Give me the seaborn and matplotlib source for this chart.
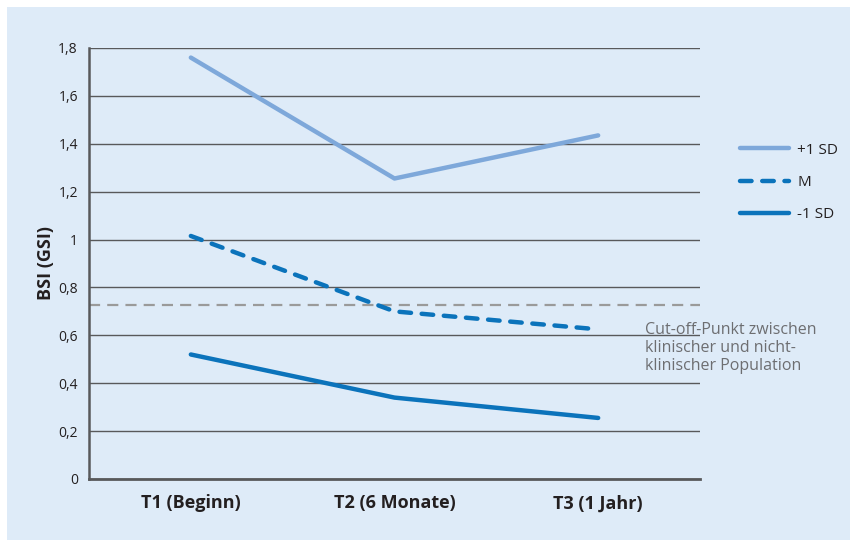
import matplotlib
matplotlib.use("Agg")
import matplotlib.pyplot as plt
from matplotlib.patches import Rectangle
from matplotlib.lines import Line2D
import seaborn as sns
import pandas as pd

# Measurement times and BSI (GSI) scores per group
times = ["T1 (Beginn)", "T2 (6 Monate)", "T3 (1 Jahr)"]
plus_sd = [1.76, 1.255, 1.435]
mean_vals = [1.015, 0.70, 0.625]
minus_sd = [0.52, 0.34, 0.255]
cutoff = 0.725
y_ticks = [0, 0.2, 0.4, 0.6, 0.8, 1.0, 1.2, 1.4, 1.6, 1.8]
y_tick_labels = ["0", "0,2", "0,4", "0,6", "0,8", "1", "1,2", "1,4", "1,6", "1,8"]
series_names = ["+1 SD", "M", "-1 SD"]

sns.set_theme(style="white")
plt.rcParams["font.family"] = ["Open Sans", "DejaVu Sans"]

panel = "#deebf8"
light_blue = "#7ea8da"
dark_blue = "#0b73bb"
grid_col = "#58595b"

df = pd.DataFrame({
    "Zeitpunkt": times * 3,
    "BSI": plus_sd + mean_vals + minus_sd,
    "Gruppe": [series_names[0]] * 3 + [series_names[1]] * 3 + [series_names[2]] * 3,
})

fig = plt.figure(figsize=(8.57, 5.44), dpi=100)
fig.patch.set_facecolor("white")
fig.patches.append(Rectangle((7 / 857, 4 / 544), 843 / 857, 533 / 544,
                             transform=fig.transFigure, facecolor=panel,
                             edgecolor="none", zorder=-1))

ax = fig.add_axes([89 / 857, 65 / 544, 611 / 857, 431 / 544])
ax.set_facecolor(panel)

palette = {series_names[0]: light_blue, series_names[1]: dark_blue, series_names[2]: dark_blue}
sns.lineplot(data=df, x="Zeitpunkt", y="BSI", hue="Gruppe", palette=palette,
             linewidth=3.2, sort=False, legend=False, ax=ax, zorder=3)

# dashed style for the mean line
for line, name in zip(ax.lines, series_names):
    line.set_solid_capstyle("round")
    if name == "M":
        line.set_dashes((2.6, 2.4))
        line.set_dash_capstyle("round")

ax.axhline(cutoff, color="#9a9a9a", linewidth=1.6, dashes=(5, 3.2), zorder=2)

ax.set_xlim(-0.5, 2.5)
ax.set_ylim(0, 1.8)
ax.set_yticks(y_ticks)
ax.set_yticklabels(y_tick_labels)
ax.yaxis.grid(True, color=grid_col, linewidth=1.0)
ax.set_axisbelow(True)
ax.tick_params(axis="both", length=0)
ax.tick_params(axis="y", labelsize=10, colors="#231f20", pad=8)
ax.tick_params(axis="x", labelsize=13, colors="#231f20", pad=11)
for lab in ax.get_xticklabels():
    lab.set_fontweight("bold")
ax.set_xlabel("")
ax.set_ylabel("BSI (GSI)", fontsize=13, fontweight="bold", color="#231f20", labelpad=2)

for side in ["top", "right"]:
    ax.spines[side].set_visible(False)
ax.spines["left"].set_color(grid_col)
ax.spines["left"].set_linewidth(1.8)
ax.spines["bottom"].set_color(grid_col)
ax.spines["bottom"].set_linewidth(2.0)

handles = [
    Line2D([], [], color=light_blue, linewidth=3.2, solid_capstyle="round"),
    Line2D([], [], color=dark_blue, linewidth=3.2, dashes=(2.6, 2.4), dash_capstyle="round"),
    Line2D([], [], color=dark_blue, linewidth=3.2, solid_capstyle="round"),
]
fig.legend(handles, series_names, loc="upper left", bbox_to_anchor=(726 / 857, 1 - 129 / 544),
           frameon=False, fontsize=11, handlelength=3.2, handletextpad=0.55,
           labelspacing=1.12, labelcolor="#231f20")

fig.text(645 / 857, 1 - 348 / 544,
         "Cut-off-Punkt zwischen\nklinischer und nicht-\nklinischer Population",
         fontsize=11.5, color="#6d6e71", va="center", ha="left", linespacing=1.2)

fig.savefig("out.png", dpi=100, facecolor="white")
